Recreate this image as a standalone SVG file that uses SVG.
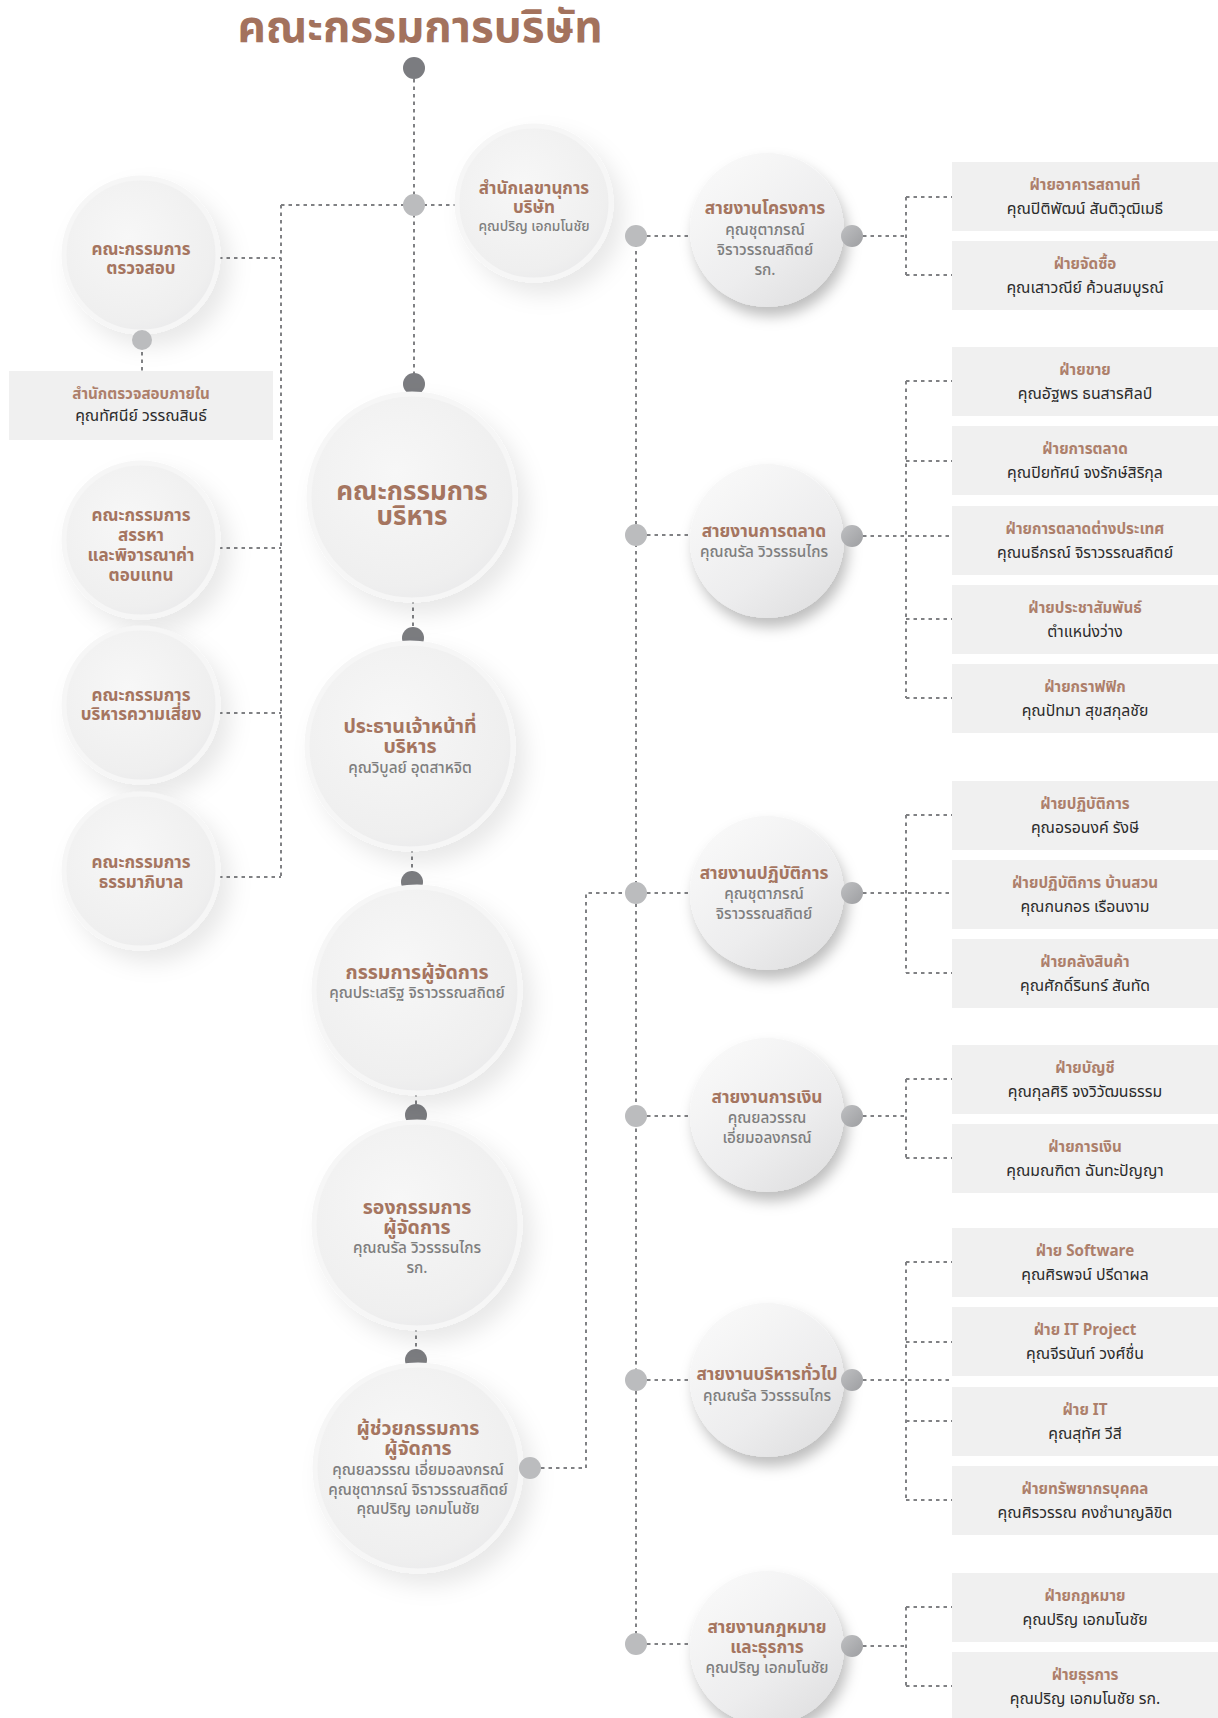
<svg xmlns="http://www.w3.org/2000/svg" width="1218" height="1718" viewBox="0 0 1218 1718">
<defs>
<radialGradient id="gSoft" cx="0.42" cy="0.38" r="0.65">
<stop offset="0" stop-color="#f7f7f7"/><stop offset="0.85" stop-color="#efefef"/><stop offset="1" stop-color="#ebebec"/>
</radialGradient>
<linearGradient id="gDept" x1="0.2" y1="0.1" x2="0.85" y2="0.95">
<stop offset="0" stop-color="#f8f8f8"/><stop offset="0.6" stop-color="#ededee"/><stop offset="1" stop-color="#e0e0e1"/>
</linearGradient>
<linearGradient id="gDot" x1="0" y1="0" x2="1" y2="1">
<stop offset="0" stop-color="#bfc0c2"/><stop offset="1" stop-color="#9d9ea1"/>
</linearGradient>
<filter id="shSoft" x="-40%" y="-40%" width="190%" height="190%">
<feDropShadow dx="10" dy="12" stdDeviation="11" flood-color="#000" flood-opacity="0.09"/>
</filter>
<filter id="shDept" x="-40%" y="-40%" width="190%" height="190%">
<feDropShadow dx="4" dy="9" stdDeviation="7" flood-color="#000" flood-opacity="0.26"/>
</filter>
<style>
text{font-family:"Noto Sans Thai","Noto Sans",sans-serif;text-anchor:middle}
.ttl{font-size:44px;font-weight:700;fill:#a3725d}
.ct{font-size:17px;font-weight:700;fill:#a57560}
.dt{font-size:17.3px;font-weight:700;fill:#a57560}
.cb{font-size:26px;font-weight:700;fill:#a57560}
.cm{font-size:19.5px;font-weight:700;fill:#a57560}
.cn{font-size:15.3px;font-weight:500;fill:#7e7e7e}
.bt{font-size:15.2px;font-weight:700;fill:#ad7f6b}
.bn{font-size:15.8px;fill:#2b2b2b}
.soft{fill:url(#gSoft);stroke:#f6f6f6;stroke-width:5;filter:url(#shSoft)}
.dept{fill:url(#gDept);filter:url(#shDept)}
.box{fill:#f0f0f0}
.dk{fill:#7b7c80}
.lt{fill:#bbbcbe}
.gd{fill:url(#gDot)}
.ln{fill:none;stroke:#808184;stroke-width:2;stroke-dasharray:3.5 4}
</style>
</defs>
<rect width="1218" height="1718" fill="#fff"/>
<text class="ttl" x="420" y="42">คณะกรรมการบริษัท</text>

<g id="connectors">
<path class="ln" d="M414 79V384"/>
<path class="ln" d="M281 205H458"/>
<path class="ln" d="M281 205V877"/>
<path class="ln" d="M219 258H281M219 548H281M219 713H281M219 877H281"/>
<path class="ln" d="M142 352V371"/>
<path class="ln" d="M413 600V638M412 849V882M416 1093V1115M416 1328V1360"/>
<path class="ln" d="M541 1468H586V893H636"/>
<path class="ln" d="M636 236V1643"/>
<path class="ln" d="M647 236H690M647 535H690M647 893H690M647 1116H690M647 1380H690M647 1644H690"/>
<path class="ln" d="M863 236H906M906 197V275M906 197H952M906 275H952"/>
<path class="ln" d="M863 536H952M906 381V698M906 381H952M906 461H952M906 619H952M906 698H952"/>
<path class="ln" d="M863 893H952M906 815V973M906 815H952M906 973H952"/>
<path class="ln" d="M863 1116H906M906 1079V1158M906 1079H952M906 1158H952"/>
<path class="ln" d="M863 1380H952M906 1262V1500M906 1262H952M906 1342H952M906 1421H952M906 1500H952"/>
<path class="ln" d="M863 1646H906M906 1607V1686M906 1607H952M906 1686H952"/>
</g>

<circle class="dk" cx="414" cy="68" r="11"/>
<circle class="lt" cx="414" cy="205" r="11"/>
<circle class="dk" cx="414" cy="384" r="11"/>
<circle class="dk" cx="413" cy="638" r="11"/>
<circle class="dk" cx="412" cy="882" r="11"/>
<circle class="dk" cx="416" cy="1115" r="11"/>
<circle class="dk" cx="416" cy="1360" r="11"/>

<g id="n-audit"><circle class="soft" cx="141" cy="255" r="77"/><text class="ct" x="141" y="255">คณะกรรมการ</text><text class="ct" x="141" y="274">ตรวจสอบ</text><circle class="lt" cx="142" cy="340" r="10"/></g>
<g id="n-internal-audit"><rect class="box" x="9" y="371" width="264" height="69"/><text class="bt" x="141" y="399">สำนักตรวจสอบภายใน</text><text class="bn" x="141" y="421">คุณทัศนีย์ วรรณสินธ์</text></g>
<g id="n-nomination"><circle class="soft" cx="141" cy="540" r="77"/><text class="ct" x="141" y="521">คณะกรรมการ</text><text class="ct" x="141" y="541">สรรหา</text><text class="ct" x="141" y="561">และพิจารณาค่า</text><text class="ct" x="141" y="581">ตอบแทน</text></g>
<g id="n-risk"><circle class="soft" cx="141" cy="705" r="77"/><text class="ct" x="141" y="701">คณะกรรมการ</text><text class="ct" x="141" y="720">บริหารความเสี่ยง</text></g>
<g id="n-governance"><circle class="soft" cx="141" cy="871" r="77"/><text class="ct" x="141" y="868">คณะกรรมการ</text><text class="ct" x="141" y="888">ธรรมาภิบาล</text></g>

<g id="n-secretary"><circle class="soft" cx="534" cy="203" r="77"/><text class="ct" x="534" y="194">สำนักเลขานุการ</text><text class="ct" x="534" y="213">บริษัท</text><text class="cn" x="534" y="231" style="font-size:13.8px">คุณปริญ เอกมโนชัย</text></g>
<g id="n-exec"><circle class="soft" cx="412" cy="497" r="103"/><text class="cb" x="412" y="500">คณะกรรมการ</text><text class="cb" x="412" y="525">บริหาร</text></g>
<g id="n-ceo"><circle class="soft" cx="410" cy="746" r="103"/><text class="cm" x="410" y="733">ประธานเจ้าหน้าที่</text><text class="cm" x="410" y="753">บริหาร</text><text class="cn" x="410" y="773">คุณวิบูลย์ อุตสาหจิต</text></g>
<g id="n-md"><circle class="soft" cx="417" cy="990" r="103"/><text class="cm" x="417" y="979">กรรมการผู้จัดการ</text><text class="cn" x="417" y="998">คุณประเสริฐ จิราวรรณสถิตย์</text></g>
<g id="n-dmd"><circle class="soft" cx="417" cy="1225" r="103"/><text class="cm" x="417" y="1214">รองกรรมการ</text><text class="cm" x="417" y="1234">ผู้จัดการ</text><text class="cn" x="417" y="1253">คุณณรัล วิวรรธนไกร</text><text class="cn" x="417" y="1273">รก.</text></g>
<g id="n-amd"><circle class="soft" cx="418" cy="1468" r="103"/><text class="cm" x="418" y="1435">ผู้ช่วยกรรมการ</text><text class="cm" x="418" y="1455">ผู้จัดการ</text><text class="cn" x="418" y="1475">คุณยลวรรณ เอี่ยมอลงกรณ์</text><text class="cn" x="418" y="1495">คุณชุตาภรณ์ จิราวรรณสถิตย์</text><text class="cn" x="418" y="1514">คุณปริญ เอกมโนชัย</text><circle class="lt" cx="530" cy="1468" r="11"/></g>

<g id="n-project"><circle class="lt" cx="636" cy="236" r="11"/><circle class="dept" cx="767" cy="230" r="77"/><circle class="gd" cx="852" cy="236" r="11"/><text class="dt" x="765" y="214">สายงานโครงการ</text><text class="cn" x="765" y="235">คุณชุตาภรณ์</text><text class="cn" x="765" y="255">จิราวรรณสถิตย์</text><text class="cn" x="765" y="275">รก.</text></g>
<g id="n-marketing"><circle class="lt" cx="636" cy="535" r="11"/><circle class="dept" cx="767" cy="541" r="77"/><circle class="gd" cx="852" cy="536" r="11"/><text class="dt" x="764" y="537">สายงานการตลาด</text><text class="cn" x="764" y="557">คุณณรัล วิวรรธนไกร</text></g>
<g id="n-ops"><circle class="lt" cx="636" cy="893" r="11"/><circle class="dept" cx="767" cy="893" r="77"/><circle class="gd" cx="852" cy="893" r="11"/><text class="dt" x="764" y="879">สายงานปฏิบัติการ</text><text class="cn" x="764" y="899">คุณชุตาภรณ์</text><text class="cn" x="764" y="919">จิราวรรณสถิตย์</text></g>
<g id="n-finance"><circle class="lt" cx="636" cy="1116" r="11"/><circle class="dept" cx="767" cy="1115" r="77"/><circle class="gd" cx="852" cy="1116" r="11"/><text class="dt" x="767" y="1103">สายงานการเงิน</text><text class="cn" x="767" y="1123">คุณยลวรรณ</text><text class="cn" x="767" y="1143">เอี่ยมอลงกรณ์</text></g>
<g id="n-admin"><circle class="lt" cx="636" cy="1380" r="11"/><circle class="dept" cx="767" cy="1380" r="77"/><circle class="gd" cx="852" cy="1380" r="11"/><text class="dt" x="767" y="1380">สายงานบริหารทั่วไป</text><text class="cn" x="767" y="1401">คุณณรัล วิวรรธนไกร</text></g>
<g id="n-legal"><circle class="lt" cx="636" cy="1644" r="11"/><circle class="dept" cx="767" cy="1648" r="77"/><circle class="gd" cx="852" cy="1646" r="11"/><text class="dt" x="767" y="1633">สายงานกฎหมาย</text><text class="dt" x="767" y="1653">และธุรการ</text><text class="cn" x="767" y="1673">คุณปริญ เอกมโนชัย</text></g>

<g id="b-building"><rect class="box" x="952" y="162" width="266" height="69"/><text class="bt" x="1085" y="190">ฝ่ายอาคารสถานที่</text><text class="bn" x="1085" y="214">คุณปิติพัฒน์ สันติวุฒิเมธี</text></g>
<g id="b-purchase"><rect class="box" x="952" y="241" width="266" height="69"/><text class="bt" x="1085" y="269">ฝ่ายจัดซื้อ</text><text class="bn" x="1085" y="293">คุณเสาวณีย์ ค้วนสมบูรณ์</text></g>
<g id="b-sales"><rect class="box" x="952" y="347" width="266" height="69"/><text class="bt" x="1085" y="375">ฝ่ายขาย</text><text class="bn" x="1085" y="399">คุณอัฐพร ธนสารศิลป์</text></g>
<g id="b-mkt"><rect class="box" x="952" y="426" width="266" height="69"/><text class="bt" x="1085" y="454">ฝ่ายการตลาด</text><text class="bn" x="1085" y="478">คุณปิยทัศน์ จงรักษ์สิริกุล</text></g>
<g id="b-intl"><rect class="box" x="952" y="506" width="266" height="69"/><text class="bt" x="1085" y="534">ฝ่ายการตลาดต่างประเทศ</text><text class="bn" x="1085" y="558">คุณนธีกรณ์ จิราวรรณสถิตย์</text></g>
<g id="b-pr"><rect class="box" x="952" y="585" width="266" height="69"/><text class="bt" x="1085" y="613">ฝ่ายประชาสัมพันธ์</text><text class="bn" x="1085" y="637">ตำแหน่งว่าง</text></g>
<g id="b-graphic"><rect class="box" x="952" y="664" width="266" height="69"/><text class="bt" x="1085" y="692">ฝ่ายกราฟฟิก</text><text class="bn" x="1085" y="716">คุณปัทมา สุขสกุลชัย</text></g>
<g id="b-ops"><rect class="box" x="952" y="781" width="266" height="69"/><text class="bt" x="1085" y="809">ฝ่ายปฏิบัติการ</text><text class="bn" x="1085" y="833">คุณอรอนงค์ รังษี</text></g>
<g id="b-ops2"><rect class="box" x="952" y="860" width="266" height="69"/><text class="bt" x="1085" y="888">ฝ่ายปฏิบัติการ บ้านสวน</text><text class="bn" x="1085" y="912">คุณกนกอร เรือนงาม</text></g>
<g id="b-wh"><rect class="box" x="952" y="939" width="266" height="69"/><text class="bt" x="1085" y="967">ฝ่ายคลังสินค้า</text><text class="bn" x="1085" y="991">คุณศักดิ์รินทร์ สันทัด</text></g>
<g id="b-acc"><rect class="box" x="952" y="1045" width="266" height="69"/><text class="bt" x="1085" y="1073">ฝ่ายบัญชี</text><text class="bn" x="1085" y="1097">คุณกุลศิริ จงวิวัฒนธรรม</text></g>
<g id="b-fin"><rect class="box" x="952" y="1124" width="266" height="69"/><text class="bt" x="1085" y="1152">ฝ่ายการเงิน</text><text class="bn" x="1085" y="1176">คุณมณฑิตา ฉันทะปัญญา</text></g>
<g id="b-sw"><rect class="box" x="952" y="1228" width="266" height="69"/><text class="bt" x="1085" y="1256">ฝ่าย Software</text><text class="bn" x="1085" y="1280">คุณศิรพจน์ ปรีดาผล</text></g>
<g id="b-itp"><rect class="box" x="952" y="1307" width="266" height="69"/><text class="bt" x="1085" y="1335">ฝ่าย IT Project</text><text class="bn" x="1085" y="1359">คุณจีรนันท์ วงศ์ชื่น</text></g>
<g id="b-it"><rect class="box" x="952" y="1387" width="266" height="69"/><text class="bt" x="1085" y="1415">ฝ่าย IT</text><text class="bn" x="1085" y="1439">คุณสุทัศ วีสี</text></g>
<g id="b-hr"><rect class="box" x="952" y="1466" width="266" height="69"/><text class="bt" x="1085" y="1494">ฝ่ายทรัพยากรบุคคล</text><text class="bn" x="1085" y="1518">คุณศิรวรรณ คงชำนาญลิขิต</text></g>
<g id="b-legal"><rect class="box" x="952" y="1573" width="266" height="69"/><text class="bt" x="1085" y="1601">ฝ่ายกฎหมาย</text><text class="bn" x="1085" y="1625">คุณปริญ เอกมโนชัย</text></g>
<g id="b-general"><rect class="box" x="952" y="1652" width="266" height="69"/><text class="bt" x="1085" y="1680">ฝ่ายธุรการ</text><text class="bn" x="1085" y="1704">คุณปริญ เอกมโนชัย รก.</text></g>
</svg>
